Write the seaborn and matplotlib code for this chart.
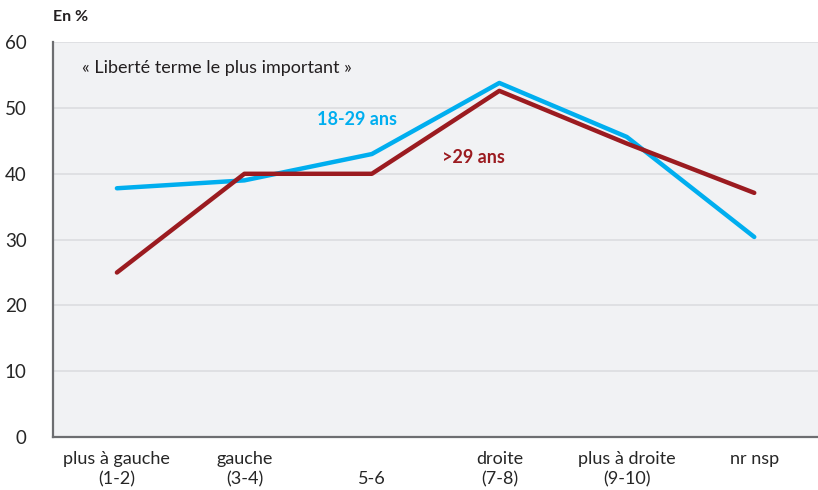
import pandas as pd
import seaborn as sns
import matplotlib.pyplot as plt

# Data
categories = ["plus à gauche\n(1-2)", "gauche\n(3-4)", "\n5-6",
              "droite\n(7-8)", "plus à droite\n(9-10)", "nr nsp\n"]
young = [37.8, 39.0, 43.0, 53.8, 45.6, 30.4]   # 18-29 ans
older = [25.0, 40.0, 40.0, 52.6, 44.6, 37.1]   # >29 ans
series_names = ["18-29 ans", ">29 ans"]

blue = "#00AEEF"
red = "#9B1B20"

df = pd.DataFrame({
    "pos": list(range(len(categories))) * 2,
    "value": young + older,
    "groupe": [series_names[0]] * len(young) + [series_names[1]] * len(older),
})

sns.set_style("white")
plt.rcParams["font.family"] = ["Lato", "DejaVu Sans"]

fig = plt.figure(figsize=(8.18, 4.9), dpi=100)
ax = fig.add_axes([0.065, 0.108, 0.935, 0.806])
ax.set_facecolor("#F1F2F4")

sns.lineplot(data=df, x="pos", y="value", hue="groupe",
             palette={series_names[0]: blue, series_names[1]: red},
             linewidth=3.2, legend=False, ax=ax)

ax.set_xlim(-0.5, 5.5)
ax.set_ylim(0, 60)
ax.set_yticks(range(0, 61, 10))
ax.set_yticklabels([str(v) for v in range(0, 61, 10)], fontsize=13.5)
ax.grid(axis="y", color="#DCDDE0", linewidth=1.2)
ax.set_axisbelow(True)

# category boundaries as ticks, labels on minor ticks at centers
ax.set_xticks([0.5, 1.5, 2.5, 3.5, 4.5])
ax.set_xticklabels([])
ax.set_xticks(range(len(categories)), minor=True)
ax.set_xticklabels(categories, minor=True, fontsize=13, linespacing=1.3)
ax.tick_params(axis="x", which="major", length=9, width=1, color="#A7A9AC", direction="out")
ax.tick_params(axis="x", which="minor", length=0, pad=10)
ax.tick_params(axis="y", length=7, width=1, color="#808285", pad=12)

for s in ["top", "right"]:
    ax.spines[s].set_visible(False)
for s in ["left", "bottom"]:
    ax.spines[s].set_color("#6D6E71")
    ax.spines[s].set_linewidth(1.6)

ax.set_xlabel("")
ax.set_ylabel("")

ax.text(-0.27, 56.0, "« Liberté terme le plus important »", fontsize=13, color="#231F20", va="center")
ax.text(1.57, 48.2, "18-29 ans", fontsize=13, color=blue, fontweight="bold", va="center")
ax.text(2.55, 42.4, ">29 ans", fontsize=13, color=red, fontweight="bold", va="center")
fig.text(0.065, 0.965, "En %", fontsize=11.5, fontweight="bold", color="#231F20", va="center")

fig.savefig("out.png", dpi=100)
